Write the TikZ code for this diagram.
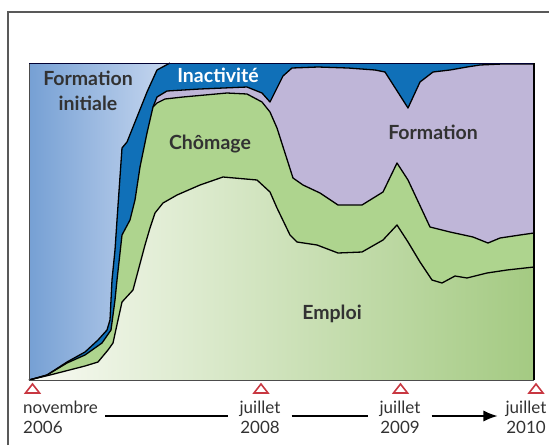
\documentclass[tikz,border=0pt]{standalone}
\usepackage{fontspec}
\setmainfont{Lato}
\usetikzlibrary{arrows.meta}
\definecolor{fiL}{RGB}{118,160,212}
\definecolor{fiR}{RGB}{200,216,240}
\definecolor{inact}{RGB}{16,112,184}
\definecolor{form}{RGB}{191,182,216}
\definecolor{chom}{RGB}{174,212,142}
\definecolor{empL}{RGB}{248,250,243}
\definecolor{empR}{RGB}{164,202,130}
\definecolor{tri}{RGB}{200,55,65}
\definecolor{txt}{RGB}{50,50,50}
\begin{document}
\begin{tikzpicture}[x=1pt,y=-1pt,
  bd/.style={draw=black, line width=1.3pt, line join=round},
  big/.style={font=\fontsize{19.5}{25}\selectfont\bfseries, text=txt, inner sep=0pt},
  date/.style={font=\fontsize{17}{20}\selectfont, text=txt, inner sep=0pt, align=center},
  marker/.style={draw=tri, line width=1.6pt, line join=miter},
  tl/.style={draw=black, line width=1.2pt}]
\useasboundingbox (0,0) rectangle (549,445);
% outer frame
\draw[gray!70!black, line width=1.1pt] (8,445) -- (8,12) -- (549,12);
% curves
\def\cA{(29,380) -- (33,379) -- (47,375) -- (67,362) -- (85,352) -- (98,340) -- (107,330) -- (110,320) -- (112,280) -- (115,250) -- (117,220) -- (122,148) -- (127,142) -- (147,92) -- (157,70) -- (170,63)}
\def\cBleft{(29,380) -- (47,375) -- (67,363) -- (85,355) -- (102,343) -- (111,330) -- (115,300) -- (117,280) -- (122,235) -- (130,220) -- (135,200) -- (140,167) -- (147,133) -- (153,107)}
\def\cBright{(153,107) -- (157,97) -- (167,91) -- (200,89) -- (247,87) -- (262,93) -- (270,102) -- (277,88) -- (283,76) -- (292,68) -- (318,67) -- (348,68) -- (375,70) -- (385,72) -- (408,108) -- (420,82) -- (433,72) -- (450,70) -- (467,67) -- (480,65) -- (502,64) -- (534,64)}
\def\cCright{(153,107) -- (157,103) -- (165,99) -- (183,97) -- (227,93) -- (247,94) -- (262,102) -- (270,112) -- (277,128) -- (293,178) -- (303,185) -- (320,193) -- (338,205) -- (362,205) -- (383,192) -- (397,163) -- (408,180) -- (430,227) -- (450,232) -- (473,237) -- (488,243) -- (500,238) -- (520,235) -- (534,233)}
\def\cD{(29,380) -- (50,375) -- (85,366) -- (98,362) -- (108,350) -- (113,343) -- (118,320) -- (122,302) -- (133,290) -- (145,245) -- (150,228) -- (155,213) -- (163,203) -- (177,195) -- (200,185) -- (223,177) -- (257,180) -- (270,192) -- (277,208) -- (290,235) -- (297,242) -- (317,245) -- (338,253) -- (362,252) -- (383,240) -- (397,225) -- (408,242) -- (420,262) -- (432,280) -- (442,283) -- (455,276) -- (467,278) -- (487,273) -- (507,270) -- (534,267)}
% fills
\shade[left color=fiL, right color=fiR] (29,63) rectangle (172,380);
\fill[inact] \cA -- (534,63) -- (534,380) -- cycle;
\fill[form] \cBleft -- \cBright -- (534,380) -- cycle;
\fill[chom] \cBleft -- \cCright -- (534,380) -- cycle;
\shade[left color=empL, right color=empR] \cD -- (534,380) -- cycle;
% boundary lines
\draw[bd] \cA;
\draw[bd] \cBleft -- \cBright;
\draw[bd] \cCright;
\draw[bd] \cD;
% plot border
\draw[gray!60!black, line width=0.9pt] (534,380) -- (29,380) -- (29,63);
\draw[black!80!blue, line width=0.9pt] (29,63) -- (534,63);
\draw[black, line width=1.3pt] (534,63) -- (534,380);
% labels
\node[big, align=center] (fi) at (88,90.5) {Formation\\initiale};
\node[big, text=white, anchor=base] (ina) at (218,82) {Inactivité};
\node[big, anchor=base] (cho) at (210,149) {Chômage};
\node[big, anchor=base] (for) at (433,139) {Formation};
\node[big, anchor=base] (emp) at (332,319) {Emploi};
% markers
\foreach \mx in {32.5,261,400.5,536}
  \draw[marker] (\mx,384) -- ++(-7,9) -- ++(14,0) -- cycle;
% dates
\node[date, anchor=west, align=left] (d06) at (23,417) {novembre\\2006};
\node[date] (d08) at (260,417) {juillet\\2008};
\node[date] (d09) at (400,417) {juillet\\2009};
\node[date] (d10) at (526,417) {juillet\\2010};
\draw[tl] ([yshift=1pt]d06.east) ++(7,0) -- ([yshift=1pt,xshift=-11pt]d08.west);
\draw[tl] ([yshift=1pt,xshift=11pt]d08.east) -- ([yshift=1pt,xshift=-11pt]d09.west);
\draw[tl, -{Latex[length=14pt,width=11pt]}] ([yshift=1pt,xshift=11pt]d09.east) -- ([yshift=1pt,xshift=-8pt]d10.west);
\end{tikzpicture}
\end{document}
